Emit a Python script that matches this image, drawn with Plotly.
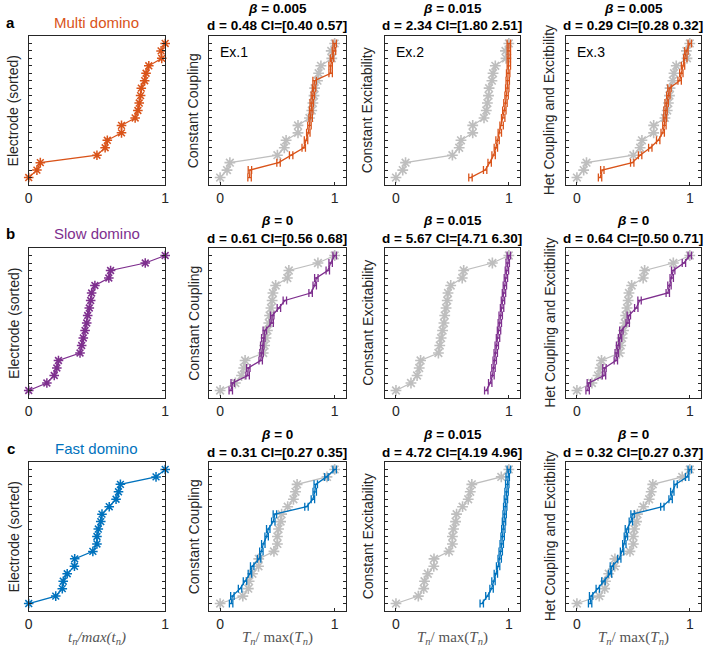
import plotly.graph_objects as go

# electrode rank (y) shared by every panel
electrode = [1, 2, 3, 4, 5, 6, 7, 8, 9, 10, 11, 12, 13, 14, 15, 16, 17, 18, 19]

# experimental activation times (normalised, sorted) - first column, grey in the others
multi_domino = [0.0, 0.06, 0.085, 0.50, 0.56, 0.576, 0.68, 0.68, 0.78, 0.80,
                0.81, 0.82, 0.825, 0.85, 0.86, 0.88, 0.975, 0.97, 1.0]
slow_domino = [0.0, 0.133, 0.187, 0.206, 0.218, 0.376, 0.388, 0.40, 0.413, 0.425,
               0.432, 0.444, 0.454, 0.461, 0.485, 0.587, 0.60, 0.854, 1.0]
fast_domino = [0.0, 0.198, 0.246, 0.253, 0.282, 0.335, 0.337, 0.47, 0.50, 0.50,
               0.51, 0.528, 0.537, 0.59, 0.64, 0.658, 0.672, 0.933, 1.0]

# model fits (mean T_n / max(T_n))
multi_cc = [0.257, 0.26, 0.51, 0.62, 0.73, 0.75, 0.77, 0.78, 0.79, 0.795,
            0.80, 0.81, 0.82, 0.825, 0.965, 0.965, 0.977, 0.994, 1.0]
multi_ce = [0.66, 0.79, 0.83, 0.865, 0.885, 0.90, 0.92, 0.936, 0.95, 0.96,
            0.97, 0.98, 0.986, 0.99, 0.994, 1.0, 1.0, 1.0, 1.0]
multi_het = [0.205, 0.225, 0.49, 0.56, 0.65, 0.72, 0.76, 0.775, 0.78, 0.785,
             0.795, 0.81, 0.82, 0.91, 0.925, 0.94, 0.96, 0.97, 1.0]
slow_cc = [0.093, 0.11, 0.24, 0.246, 0.354, 0.362, 0.368, 0.377, 0.39, 0.45,
           0.455, 0.513, 0.565, 0.79, 0.826, 0.84, 0.94, 0.965, 1.0]
slow_ce = [0.80, 0.835, 0.855, 0.864, 0.875, 0.884, 0.893, 0.904, 0.913, 0.92,
           0.928, 0.94, 0.948, 0.957, 0.965, 0.974, 0.983, 0.99, 1.0]
slow_het = [0.095, 0.106, 0.24, 0.244, 0.345, 0.353, 0.365, 0.382, 0.394, 0.45,
            0.46, 0.526, 0.555, 0.805, 0.82, 0.84, 0.853, 0.948, 1.0]
fast_cc = [0.096, 0.107, 0.174, 0.217, 0.26, 0.28, 0.34, 0.36, 0.377, 0.406,
           0.42, 0.464, 0.478, 0.754, 0.81, 0.826, 0.835, 0.928, 1.0]
fast_ce = [0.76, 0.81, 0.847, 0.864, 0.885, 0.905, 0.919, 0.928, 0.937, 0.945,
           0.951, 0.957, 0.963, 0.968, 0.974, 0.98, 0.986, 0.99, 1.0]
fast_het = [0.117, 0.126, 0.185, 0.235, 0.293, 0.31, 0.375, 0.40, 0.42, 0.434,
            0.443, 0.478, 0.493, 0.757, 0.83, 0.845, 0.874, 0.977, 1.0]
ci_half = 0.015

row_names = ['Multi domino', 'Slow domino', 'Fast domino']
row_letters = ['a', 'b', 'c']
row_colors = ['#D95319', '#7E2F8E', '#0072BD']
row_data = [multi_domino, slow_domino, fast_domino]
fits = [[multi_cc, multi_ce, multi_het],
        [slow_cc, slow_ce, slow_het],
        [fast_cc, fast_ce, fast_het]]
betas = [['0.005', '0.015', '0.005'], ['0', '0.015', '0'], ['0', '0.015', '0']]
d_text = [['d = 0.48 CI=[0.40 0.57]', 'd = 2.34 CI=[1.80 2.51]', 'd = 0.29 CI=[0.28 0.32]'],
          ['d = 0.61 CI=[0.56 0.68]', 'd = 5.67 CI=[4.71 6.30]', 'd = 0.64 CI=[0.50 0.71]'],
          ['d = 0.31 CI=[0.27 0.35]', 'd = 4.72 CI=[4.19 4.96]', 'd = 0.32 CI=[0.27 0.37]']]
col_ylabels = ['Electrode (sorted)', 'Constant Coupling', 'Constant Excitability',
               'Het Coupling and Excitbility']

W, H = 712, 652
GREY = '#BEBEBE'
AX = '#262626'
FONT = 'Liberation Sans, Arial, Helvetica, sans-serif'


def fx(p):
    return p / W


def fy(p):
    return 1 - p / H


def label(xp, yp, text, size, color, family=FONT, angle=0, xanchor='center'):
    return dict(x=fx(xp), y=fy(yp), xref='paper', yref='paper', text=text,
                textangle=angle, showarrow=False, xanchor=xanchor, yanchor='middle',
                font=dict(size=size, color=color, family=family))


col_px = [(25, 163), (207, 346), (385, 522), (568, 705)]
row_px = [(36, 185), (248, 398), (462, 611)]
ylab_x = [10, 192, 368, 552]

fig = go.Figure()
layout = {}
ann = []

for r in range(3):
    for c in range(4):
        k = r * 4 + c + 1
        xa, ya = 'x%d' % k, 'y%d' % k
        if c == 0:
            fig.add_trace(go.Scatter(
                x=row_data[r], y=electrode, xaxis=xa, yaxis=ya, mode='lines+markers',
                line=dict(color=row_colors[r], width=1.2),
                marker=dict(symbol='asterisk-open', size=8,
                            line=dict(color=row_colors[r], width=1.5)),
                cliponaxis=False, showlegend=False))
        else:
            fig.add_trace(go.Scatter(
                x=row_data[r], y=electrode, xaxis=xa, yaxis=ya, mode='lines+markers',
                line=dict(color=GREY, width=1.2),
                marker=dict(symbol='asterisk-open', size=9,
                            line=dict(color=GREY, width=1.6)),
                cliponaxis=False, showlegend=False))
            fig.add_trace(go.Scatter(
                x=fits[r][c - 1], y=electrode, xaxis=xa, yaxis=ya, mode='lines',
                line=dict(color=row_colors[r], width=1.3),
                error_x=dict(type='constant', value=ci_half, color=row_colors[r],
                             thickness=1.3, width=4),
                cliponaxis=False, showlegend=False))

        x0, x1 = col_px[c]
        y0, y1 = row_px[r]
        axkey = 'xaxis' if k == 1 else 'xaxis%d' % k
        aykey = 'yaxis' if k == 1 else 'yaxis%d' % k
        layout[axkey] = dict(
            domain=[fx(x0), fx(x1)], anchor=ya,
            range=[0, 1] if c == 0 else [-0.1, 1.1],
            tickvals=[0, 1], ticktext=['0', '1'], ticks='inside', ticklen=3,
            tickcolor=AX, showgrid=False, zeroline=False, showline=True,
            linecolor=AX, linewidth=1, mirror=True,
            tickfont=dict(size=14, color=AX, family=FONT))
        layout[aykey] = dict(
            domain=[fy(y1), fy(y0)], anchor=xa, range=[0, 20], dtick=1,
            ticks='inside', ticklen=3, tickcolor=AX, showticklabels=False,
            showgrid=False, zeroline=False, showline=True, linecolor=AX,
            linewidth=1, mirror='ticks')

        # y-axis label
        ann.append(label(ylab_x[c], (y0 + y1) / 2, col_ylabels[c], 14, AX, angle=-90))

        if c == 0:
            ann.append(label((x0 + x1) / 2, y0 - 14, row_names[r], 15, row_colors[r]))
            ann.append(label(7, y0 - 14, '<b>%s</b>' % row_letters[r], 15, 'black'))
        else:
            ann.append(label((x0 + x1) / 2, y0 - 28,
                             '<b><i>β</i> = %s</b>' % betas[r][c - 1], 13.5, 'black'))
            ann.append(label((x0 + x1) / 2, y0 - 10,
                             '<b>%s</b>' % d_text[r][c - 1], 13.5, 'black'))
            if r == 0:
                ann.append(label(x0 + 9, y0 + 16, 'Ex.%d' % c, 14, 'black', xanchor='left'))

        if r == 2:
            if c == 0:
                xt = '<i>t<sub>n</sub>/max(t<sub>n</sub>)</i>'
            else:
                xt = '<i>T<sub>n</sub></i>/ max(<i>T<sub>n</sub></i>)'
            ann.append(label((x0 + x1) / 2, 638, xt, 15, '#555555',
                             family='Liberation Serif, DejaVu Serif, serif'))

fig.update_layout(width=W, height=H, margin=dict(l=0, r=0, t=0, b=0),
                  plot_bgcolor='white', paper_bgcolor='white',
                  annotations=ann, **layout)

fig.write_html("out.html", config={'displayModeBar': False},
               post_script="document.body.style.margin='0';document.body.style.overflow='hidden';")
